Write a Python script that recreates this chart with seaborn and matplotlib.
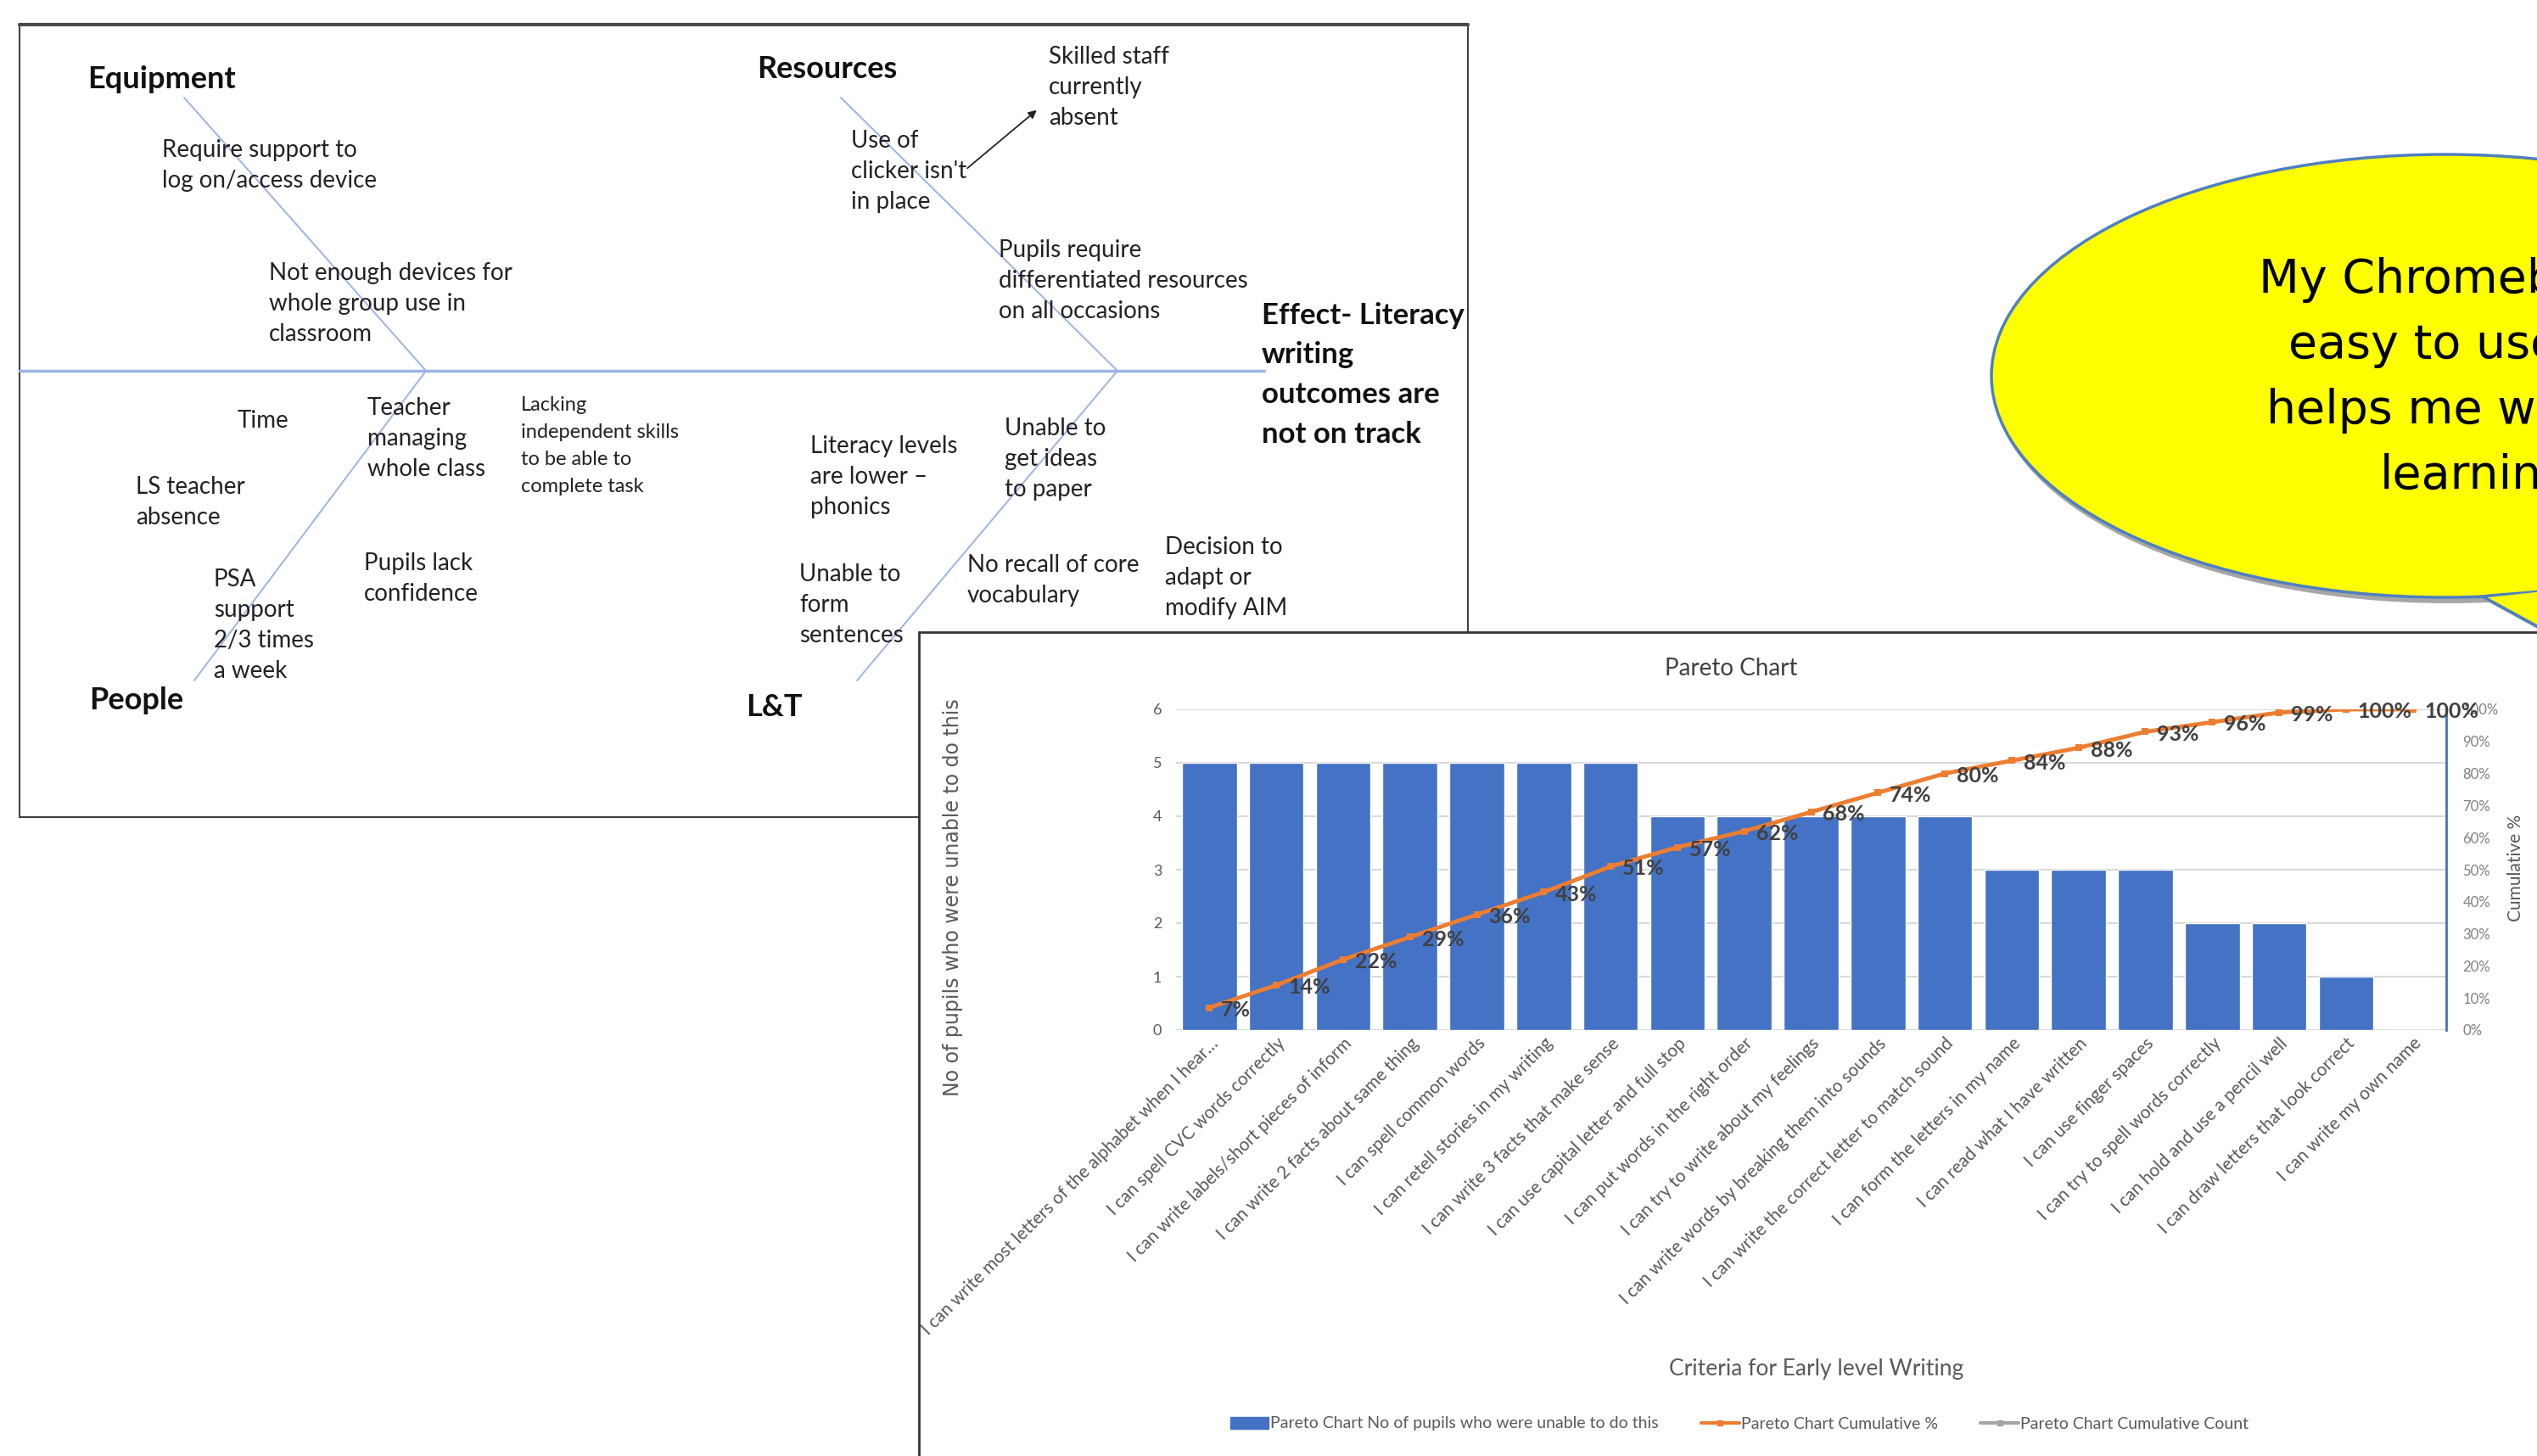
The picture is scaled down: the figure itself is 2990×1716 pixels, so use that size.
import numpy as np
import pandas as pd
import matplotlib
matplotlib.use('Agg')
import matplotlib.pyplot as plt
from matplotlib.patches import Ellipse, Polygon, Rectangle, Patch
from matplotlib.lines import Line2D
import seaborn as sns

# ---------------------------------------------------------------------------
# Pareto data
# ---------------------------------------------------------------------------
criteria = [
    "I can write most letters of the alphabet when I hear\u2026",
    "I can spell CVC words correctly",
    "I can write labels/short pieces of inform",
    "I can write 2 facts about same thing",
    "I can spell common words",
    "I can retell stories in my writing",
    "I can write 3 facts that make sense",
    "I can use capital letter and full stop",
    "I can put words in the right order",
    "I can try to write about my feelings",
    "I can write words by breaking them into sounds",
    "I can write the correct letter to match sound",
    "I can form the letters in my name",
    "I can read what I have written",
    "I can use finger spaces",
    "I can try to spell words correctly",
    "I can hold and use a pencil well",
    "I can draw letters that look correct",
    "I can write my own name",
]
pupils_unable = [5, 5, 5, 5, 5, 5, 5, 4, 4, 4, 4, 4, 3, 3, 3, 2, 2, 1, 0]
cumulative_pct = [7, 14, 22, 29, 36, 43, 51, 57, 62, 68, 74, 80, 84, 88, 93, 96, 99, 100, 100]
count_ticks = [0, 1, 2, 3, 4, 5, 6]
pct_ticks = [0, 10, 20, 30, 40, 50, 60, 70, 80, 90, 100]

# fishbone notes: (x, y of first line, lines)
notes = [
    (191, 177, ["Require support to", "log on/access device"]),
    (317, 322, ["Not enough devices for", "whole group use in", "classroom"]),
    (1236, 67, ["Skilled staff", "currently", "absent"]),
    (1003, 166, ["Use of", "clicker isn't", "in place"]),
    (1177, 295, ["Pupils require", "differentiated resources", "on all occasions"]),
    (280, 496, ["Time"]),
    (433, 481, ["Teacher", "managing", "whole class"]),
    (160, 574, ["LS teacher", "absence"]),
    (252, 683, ["PSA", "support", "2/3 times", "a week"]),
    (429, 664, ["Pupils lack", "confidence"]),
    (955, 526, ["Literacy levels", "are lower \u2013", "phonics"]),
    (1184, 505, ["Unable to", "get ideas", "to paper"]),
    (942, 677, ["Unable to", "form", "sentences"]),
    (1140, 666, ["No recall of core", "vocabulary"]),
    (1373, 645, ["Decision to", "adapt or", "modify AIM"]),
]
small_note = (614, 477, ["Lacking", "independent skills", "to be able to", "complete task"])
headers = [
    (103, 93, "Equipment"),
    (892, 82, "Resources"),
    (105, 826, "People"),
    (879, 833, "L&T"),
]
effect_lines = ["Effect- Literacy", "writing", "outcomes are", "not on track"]
bubble_lines = ["My Chromebook is", "easy to use and", "helps me with my", "learning"]

# ---------------------------------------------------------------------------
sns.set_style("white")
plt.rcParams['font.family'] = ['Lato', 'DejaVu Sans']

W, H = 2990, 1716
fig = plt.figure(figsize=(W / 100, H / 100), dpi=100)
fig.patch.set_facecolor('white')

# background layer in pixel coordinates
bg = fig.add_axes([0, 0, 1, 1])
bg.set_xlim(0, W)
bg.set_ylim(H, 0)
bg.axis('off')

# fishbone box
bg.add_patch(Rectangle((23, 29), 1730 - 23, 963 - 29, fill=False, ec='#404040', lw=1.5, zorder=1))
bg.plot([23, 1730], [29, 29], color='#4a4a4a', lw=3, zorder=1)

bone = '#9DB3E3'
bg.plot([23, 1490], [437, 437], color=bone, lw=2.5, zorder=2)
bg.plot([217, 502], [115, 437], color=bone, lw=1.4, zorder=2)
bg.plot([502, 229], [437, 802], color=bone, lw=1.4, zorder=2)
bg.plot([991, 1317], [115, 437], color=bone, lw=1.4, zorder=2)
bg.plot([1317, 1010], [437, 802], color=bone, lw=1.4, zorder=2)
bg.annotate("", xy=(1224, 128), xytext=(1138, 200),
            arrowprops=dict(arrowstyle='-|>', color='#222222', lw=1.3, mutation_scale=14), zorder=3)

note_col = '#222222'
for x, y, lines in notes:
    for k, line in enumerate(lines):
        bg.text(x, y + k * 36, line, fontsize=20, color=note_col, ha='left', va='center', zorder=3)
x, y, lines = small_note
for k, line in enumerate(lines):
    bg.text(x, y + k * 32, line, fontsize=17, color=note_col, ha='left', va='center', zorder=3)
for x, y, t in headers:
    bg.text(x, y, t, fontsize=26, fontweight='bold', color='#111111', ha='left', va='center', zorder=3)
for k, line in enumerate(effect_lines):
    bg.text(1487, 372 + k * 46.5, line, fontsize=25, fontweight='bold', color='#111111',
            ha='left', va='center', zorder=3)

# speech bubble
bg.add_patch(Ellipse((2886, 448), 1076, 526, fc='#A6A6A6', ec='none', zorder=4))
bg.add_patch(Polygon([[2930, 708], [3080, 790], [3000, 700]], closed=True, fc='#A6A6A6', ec='none', zorder=4))
bg.add_patch(Ellipse((2882, 443), 1070, 522, fc='#FFFF00', ec='#4F7FC0', lw=2.5, zorder=5))
bg.add_patch(Polygon([[2926, 703], [3076, 785], [3000, 695]], closed=True, fc='#FFFF00', ec='#4F7FC0',
                     lw=2.5, zorder=5))
bg.add_patch(Ellipse((2882, 443), 1064, 516, fc='#FFFF00', ec='none', zorder=6))
for k, line in enumerate(bubble_lines):
    bg.text(2918, 330 + k * 77, line, fontsize=40, color='black', family='DejaVu Sans',
            ha='center', va='center', zorder=7)

# Pareto panel (white sheet over the fishbone)
bg.add_patch(Rectangle((1083, 745), W - 1083 + 5, H - 745 + 5, fc='white', ec='none', zorder=8))
bg.plot([1083, W], [745, 745], color='#333333', lw=2, zorder=9)
bg.plot([1083, 1083], [745, H], color='#333333', lw=2, zorder=9)

# ---------------------------------------------------------------------------
# Pareto chart
# ---------------------------------------------------------------------------
left, right, top, bottom = 1386, 2883, 836, 1214
ax = fig.add_axes([left / W, 1 - bottom / H, (right - left) / W, (bottom - top) / H])
ax.set_facecolor('none')

df = pd.DataFrame({'criteria': criteria, 'pupils': pupils_unable})
sns.barplot(data=df, x='criteria', y='pupils', color='#4472C4', saturation=1, width=0.82, ax=ax, zorder=2)
ax.set_ylim(0, 6)
ax.set_yticks(count_ticks)
ax.set_yticklabels([str(t) for t in count_ticks], fontsize=13, color='#595959')
ax.yaxis.grid(True, color='#D9D9D9', lw=1.5, zorder=0)
ax.set_axisbelow(True)
ax.tick_params(length=0)
ax.tick_params(axis='y', pad=12)
ax.tick_params(axis='x', pad=4)
ax.set_xticks(range(len(criteria)))
ax.set_xticklabels(criteria, rotation=45, ha='right', va='top', rotation_mode='anchor',
                   fontsize=15, color='#595959')
for s in ax.spines.values():
    s.set_visible(False)
ax.set_xlabel('')
ax.set_ylabel('No of pupils who were unable to do this', fontsize=17, color='#595959',
              family='DejaVu Sans')
ax.yaxis.set_label_coords(-0.168, 0.413)

ax2 = ax.twinx()
sns.lineplot(x=np.arange(len(criteria)), y=cumulative_pct, ax=ax2, color='#ED7D31', lw=3.5,
             marker='s', markersize=6, markeredgewidth=0, zorder=4)
ax2.set_ylim(0, 100)
ax2.set_xlim(-0.5, len(criteria) - 0.5)
ax.set_xlim(-0.5, len(criteria) - 0.5)
ax2.set_yticks(pct_ticks)
ax2.set_yticklabels([f"{p}%" for p in pct_ticks], fontsize=12, color='#7F7F7F')
ax2.tick_params(length=0, pad=14)
for s in ['top', 'left', 'bottom']:
    ax2.spines[s].set_visible(False)
ax2.spines['right'].set_color('#4472C4')
ax2.spines['right'].set_linestyle((0, (1, 1)))
ax2.spines['right'].set_linewidth(2)
ax2.set_ylabel('Cumulative %', fontsize=15, color='#595959')
ax2.yaxis.set_label_coords(1.048, 0.505)
for i, v in enumerate(cumulative_pct):
    ax2.annotate(f"{v}%", (i, v), xytext=(10, -2), textcoords='offset points',
                 ha='left', va='center', fontsize=18, fontweight='bold', color='#404040', zorder=5)

fig.text(2040 / W, 1 - 788 / H, 'Pareto Chart', fontsize=20, color='#404040', ha='center', va='center')
fig.text(2141 / W, 1 - 1613 / H, 'Criteria for Early level Writing', fontsize=19, color='#595959',
         ha='center', va='center')

handles = [Patch(color='#4472C4'),
           Line2D([], [], color='#ED7D31', lw=3, marker='s', ms=5),
           Line2D([], [], color='#A5A5A5', lw=3, marker='s', ms=5)]
labels = ['Pareto Chart No of pupils who were unable to do this',
          'Pareto Chart Cumulative %',
          'Pareto Chart Cumulative Count']
fig.legend(handles, labels, loc='center', bbox_to_anchor=(2050 / W, 1 - 1678 / H), ncol=3,
           frameon=False, fontsize=14, labelcolor='#595959', handlelength=2.3,
           handletextpad=0.1, columnspacing=2.6)

fig.savefig('out.png', dpi=100)
